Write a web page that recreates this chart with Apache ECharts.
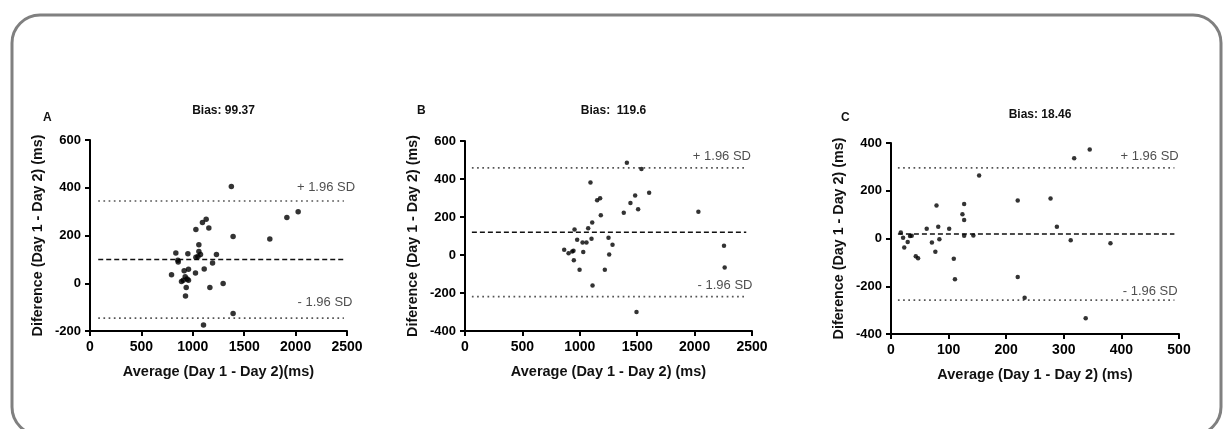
<!DOCTYPE html>
<html>
<head>
<meta charset="utf-8">
<script src="https://cdn.jsdelivr.net/npm/echarts@6/dist/echarts.min.js"></script>
<style>
html,body{margin:0;padding:0;background:#fff;}
#c{width:1223px;height:429px;}
</style>
</head>
<body>
<div id="c"></div>
<script>
// ---- data ----
const panelLetters = ['A', 'B', 'C'];
const titles = ['Bias: 99.37', 'Bias:  119.6', 'Bias: 18.46'];
const xNames = ['Average (Day 1 - Day 2)(ms)', 'Average (Day 1 - Day 2) (ms)', 'Average (Day 1 - Day 2) (ms)'];
const yName = 'Diference (Day 1 - Day 2) (ms)';

const biasValues = [99.37, 119.6, 18.46];
const upperLoA = [344.5, 458.2, 295.5];
const lowerLoA = [-145.8, -219.0, -258.5];

const xRanges = [[0, 2500, 500], [0, 2500, 500], [0, 500, 100]];
const yRanges = [[-200, 600, 200], [-400, 600, 200], [-400, 400, 200]];

const pointsA = [
  [1375, 405], [1130, 268], [1915, 275], [2025, 300], [1094, 254], [1156, 231],
  [1030, 225], [1392, 196], [1749, 185], [1059, 161], [1059, 133], [835, 127],
  [952, 124], [1075, 120], [1230, 120], [1030, 109], [1050, 112], [855, 96],
  [858, 89], [1192, 85], [958, 59], [1111, 60], [916, 52], [1026, 43],
  [793, 36], [926, 27], [945, 18], [907, 13], [890, 7], [958, 13],
  [1295, -1], [1166, -18], [936, -18], [929, -53], [1392, -127], [1104, -175]
];
const pointsB = [
  [1410, 485], [1537, 452], [1093, 381], [1604, 327], [1482, 313], [1177, 299],
  [1151, 288], [1441, 274], [1508, 241], [1183, 209], [1383, 222], [2033, 227],
  [1108, 171], [1073, 141], [954, 134], [977, 80], [1024, 66], [1058, 66],
  [1102, 86], [1250, 91], [1285, 54], [864, 28], [902, 9], [934, 19],
  [945, 23], [1030, 16], [948, -28], [998, -77], [1218, -77], [1256, 3],
  [1111, -161], [1494, -300], [2256, 49], [2262, -66]
];
const pointsC = [
  [345, 373], [318, 336], [153, 264], [277, 168], [220, 159], [79, 138],
  [127, 144], [124, 102], [127, 77], [17, 25], [21, 3], [23, -38],
  [29, -15], [33, 10], [36, 11], [62, 41], [82, 49], [101, 41],
  [71, -17], [84, -3], [77, -55], [43, -74], [47, -83], [109, -85],
  [111, -171], [127, 11], [143, 13], [220, -161], [232, -248], [288, 49],
  [312, -7], [381, -20], [338, -334]
];
const allPoints = [pointsA, pointsB, pointsC];

// line extents (data units along x) and SD label anchor points
const lineExtents = [[80, 2470], [60, 2450], [12, 492]];
const upperLabelAt = [[2296, 401], [2238, 520], [449, 344]];
const lowerLabelAt = [[2286, -80], [2265, -159], [450, -222]];

// ---- layout ----
const grids = [
  {left: 90, top: 140, width: 257, height: 191},
  {left: 465, top: 141, width: 287, height: 190},
  {left: 891, top: 143, width: 288, height: 191}
];
const markerSizes = [5.5, 4.5, 4.5];
const FONT = '"Liberation Sans", Arial, sans-serif';

const xAxis = [], yAxis = [], series = [], title = [];
for (let i = 0; i < 3; i++) {
  xAxis.push({
    gridIndex: i, type: 'value', min: xRanges[i][0], max: xRanges[i][1], interval: xRanges[i][2],
    name: xNames[i], nameLocation: 'middle', nameGap: 33,
    nameTextStyle: {fontFamily: FONT, fontWeight: 'bold', fontSize: 14.5, color: '#111'},
    axisLine: {onZero: false, lineStyle: {color: '#000', width: 2}},
    axisTick: {length: 5, lineStyle: {color: '#000', width: 2}},
    axisLabel: {fontFamily: FONT, fontWeight: 'bold', fontSize: 14, color: '#000', margin: 9,
      formatter: v => String(v)},
    splitLine: {show: false}
  });
  yAxis.push({
    gridIndex: i, type: 'value', min: yRanges[i][0], max: yRanges[i][1], interval: yRanges[i][2],
    name: yName, nameLocation: 'middle', nameGap: 45,
    nameTextStyle: {fontFamily: FONT, fontWeight: 'bold', fontSize: 14.3, color: '#111'},
    axisLine: {show: true, onZero: false, lineStyle: {color: '#000', width: 2}},
    axisTick: {show: true, length: 5, lineStyle: {color: '#000', width: 2}},
    axisLabel: {fontFamily: FONT, fontWeight: 'bold', fontSize: 13, color: '#000', margin: 9,
      formatter: v => String(v)},
    splitLine: {show: false}
  });
  const ext = lineExtents[i];
  series.push({
    type: 'line', xAxisIndex: i, yAxisIndex: i, symbol: 'none', silent: true,
    data: [[ext[0], biasValues[i]], [ext[1], biasValues[i]]],
    lineStyle: {color: '#111', width: 1.5, type: [5, 3]}
  });
  series.push({
    type: 'line', xAxisIndex: i, yAxisIndex: i, symbol: 'none', silent: true,
    data: [[ext[0], upperLoA[i]], [ext[1], upperLoA[i]]],
    lineStyle: {color: '#555', width: 1.7, type: [1.7, 3.5]}
  });
  series.push({
    type: 'line', xAxisIndex: i, yAxisIndex: i, symbol: 'none', silent: true,
    data: [[ext[0], lowerLoA[i]], [ext[1], lowerLoA[i]]],
    lineStyle: {color: '#555', width: 1.7, type: [1.7, 3.5]}
  });
  series.push({
    type: 'scatter', xAxisIndex: i, yAxisIndex: i, symbol: 'circle', symbolSize: markerSizes[i],
    itemStyle: {color: '#000'}, data: allPoints[i], z: 5
  });
  series.push({
    type: 'scatter', xAxisIndex: i, yAxisIndex: i, symbolSize: 0, silent: true,
    data: [
      {value: upperLabelAt[i], label: {formatter: '+ 1.96 SD'}},
      {value: lowerLabelAt[i], label: {formatter: '- 1.96 SD'}}
    ],
    label: {show: true, position: 'inside', fontFamily: FONT, fontSize: 13, color: '#222'}
  });
  title.push({
    text: titles[i], left: grids[i].left + grids[i].width / 2, top: 100 + (i === 2 ? 4 : 0), textAlign: 'center',
    textStyle: {fontFamily: FONT, fontWeight: 'bold', fontSize: 12, color: '#111'}
  });
}
const letterPos = [[38, 107], [412, 100], [836, 107]];
for (let i = 0; i < 3; i++) {
  title.push({
    text: panelLetters[i], left: letterPos[i][0], top: letterPos[i][1],
    textStyle: {fontFamily: FONT, fontWeight: 'bold', fontSize: 12, color: '#111'}
  });
}

const chart = echarts.init(document.getElementById('c'), null, {renderer: 'canvas'});
chart.setOption({
  backgroundColor: '#fff',
  animation: false,
  title: title,
  grid: grids,
  xAxis: xAxis,
  yAxis: yAxis,
  series: series,
  graphic: [{
    type: 'rect', silent: true, z: -1,
    shape: {x: 12, y: 15, width: 1209, height: 420, r: 28},
    style: {fill: 'none', stroke: '#808080', lineWidth: 3}
  }]
});
</script>
</body>
</html>
